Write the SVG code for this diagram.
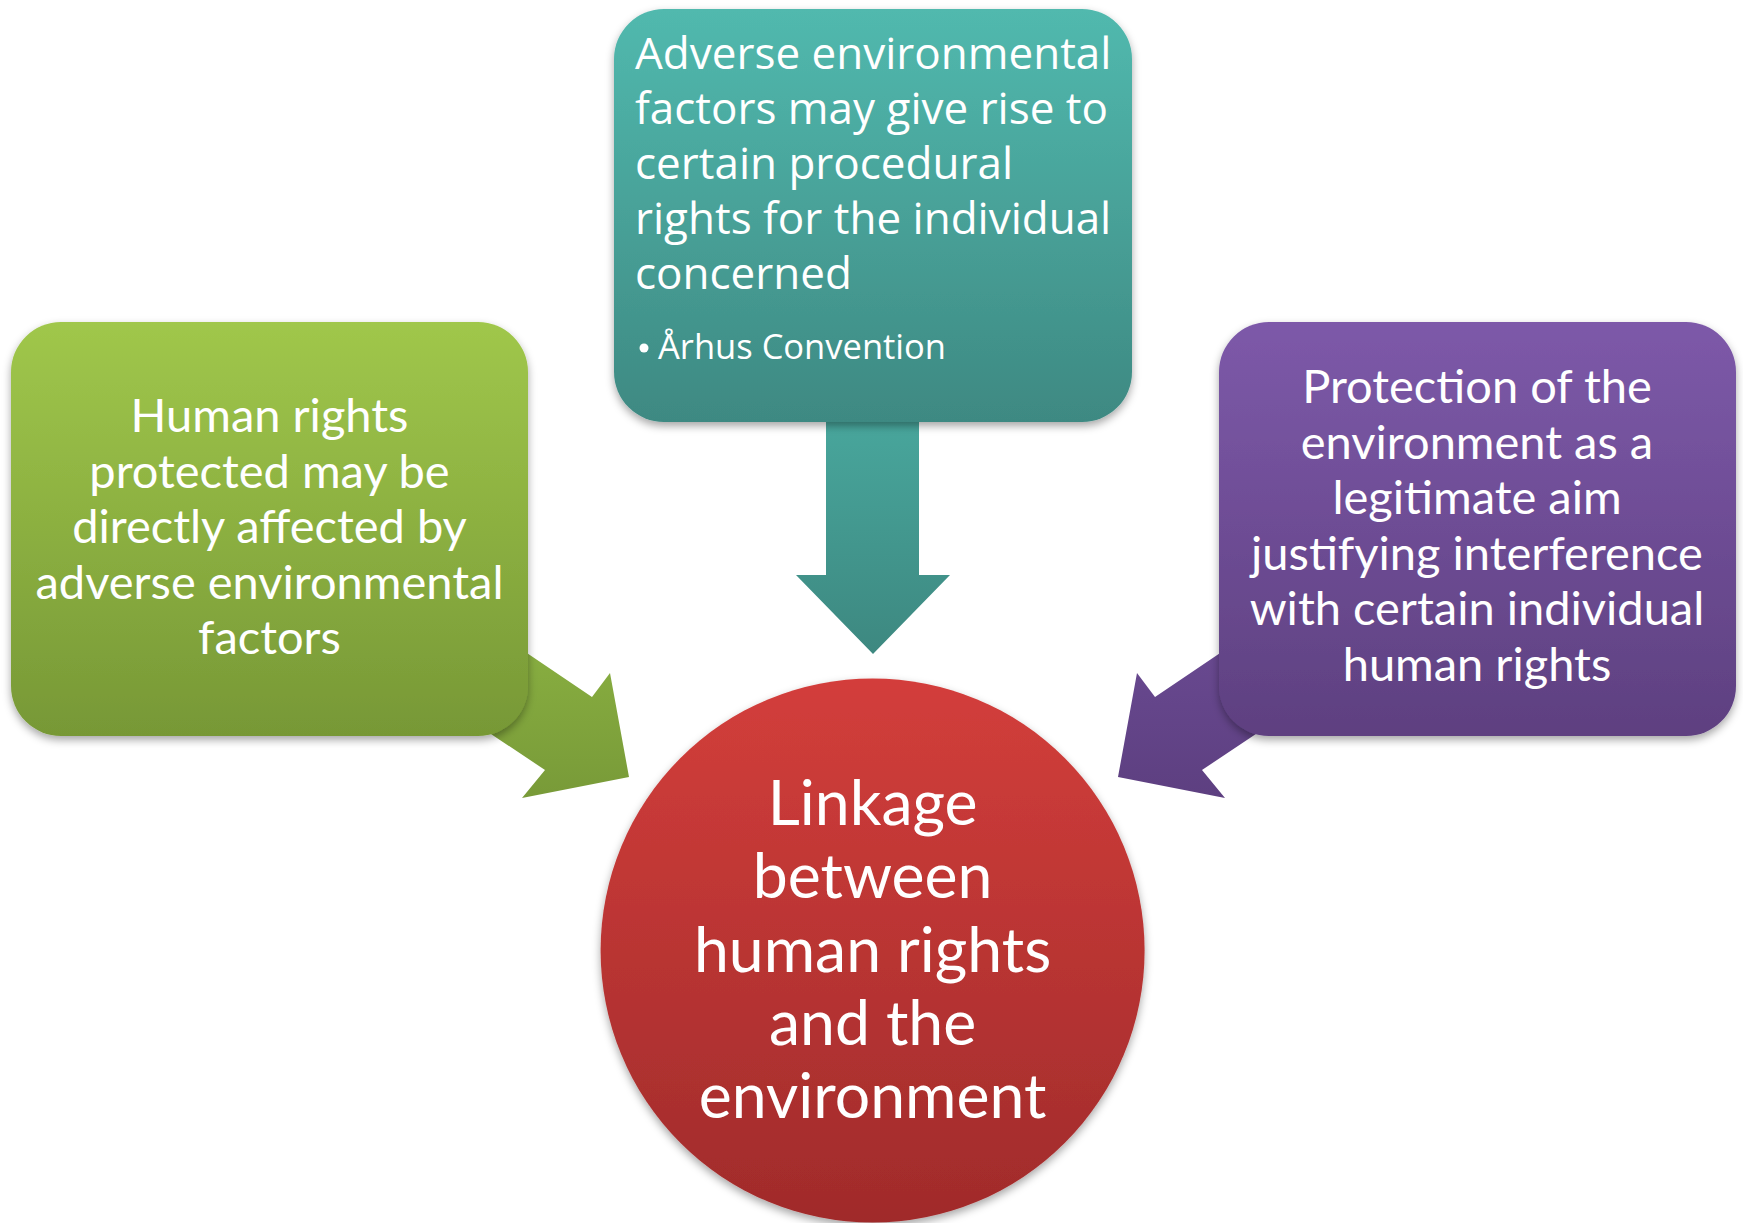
<svg xmlns="http://www.w3.org/2000/svg" width="1743" height="1223" viewBox="0 0 1743 1223">
<style>
.t{fill:#fff;font-family:Lato,"Liberation Sans",sans-serif;}
.c{text-anchor:middle;font-size:47px;}
.big{text-anchor:middle;font-size:62.5px;}
.w{fill:#fff;font-family:"Open Sans","Liberation Sans",sans-serif;font-size:44px;}
.w2{fill:#fff;font-family:"Open Sans","Liberation Sans",sans-serif;font-size:34.5px;}
</style>
<defs>
<linearGradient id="gG" x1="0" y1="0" x2="0" y2="1"><stop offset="0" stop-color="#A0C74B"/><stop offset="1" stop-color="#779836"/></linearGradient>
<linearGradient id="gT" x1="0" y1="0" x2="0" y2="1"><stop offset="0" stop-color="#51B9AE"/><stop offset="1" stop-color="#3E8982"/></linearGradient>
<linearGradient id="gP" x1="0" y1="0" x2="0" y2="1"><stop offset="0" stop-color="#7D59A9"/><stop offset="1" stop-color="#5E4080"/></linearGradient>
<linearGradient id="gR" x1="0" y1="0" x2="0" y2="1"><stop offset="0" stop-color="#D33E3B"/><stop offset="1" stop-color="#A02B2B"/></linearGradient>
<linearGradient id="aG" gradientUnits="userSpaceOnUse" x1="0" y1="600" x2="0" y2="800"><stop offset="0" stop-color="#8DB443"/><stop offset="1" stop-color="#789A38"/></linearGradient>
<linearGradient id="aT" gradientUnits="userSpaceOnUse" x1="0" y1="420" x2="0" y2="655"><stop offset="0" stop-color="#48A69C"/><stop offset="1" stop-color="#3D8880"/></linearGradient>
<linearGradient id="aP" gradientUnits="userSpaceOnUse" x1="0" y1="600" x2="0" y2="800"><stop offset="0" stop-color="#6C4C95"/><stop offset="1" stop-color="#5D3F80"/></linearGradient>
<filter id="sh" x="-10%" y="-10%" width="120%" height="125%"><feDropShadow dx="0" dy="4" stdDeviation="4" flood-color="#000" flood-opacity="0.35"/></filter>
</defs>
<rect width="1743" height="1223" fill="#fff"/>
<g id="connectors">
<polygon points="441,595 592,697 610,673 629,777 522,798 545,770 455,710" fill="url(#aG)"/>
<polygon points="826,400 826,575 796,575 873,654 950,575 919,575 919,400" fill="url(#aT)"/>
<polygon points="1306,595 1155,697 1137,673 1118,777 1225,798 1202,770 1292,710" fill="url(#aP)"/>
</g>
<g id="node-green">
<rect x="11" y="322" width="517" height="414" rx="50" fill="url(#gG)" filter="url(#sh)"/>
<text class="t c" x="269.5" y="432">Human rights</text>
<text class="t c" x="269.5" y="488">protected may be</text>
<text class="t c" x="269.5" y="543">directly affected by</text>
<text class="t c" x="269.5" y="599">adverse environmental</text>
<text class="t c" x="269.5" y="654">factors</text>
</g>
<g id="node-teal">
<rect x="614" y="9" width="518" height="413" rx="50" fill="url(#gT)" filter="url(#sh)"/>
<text class="w" x="635" y="69">Adverse environmental</text>
<text class="w" x="635" y="124">factors may give rise to</text>
<text class="w" x="635" y="179">certain procedural</text>
<text class="w" x="635" y="234">rights for the individual</text>
<text class="w" x="635" y="289">concerned</text>
<circle cx="644" cy="348" r="4.5" fill="#fff"/>
<text class="w2" x="658" y="359">Århus Convention</text>
</g>
<g id="node-purple">
<rect x="1219" y="322" width="517" height="414" rx="50" fill="url(#gP)" filter="url(#sh)"/>
<text class="t c" x="1477" y="403">Protection of the</text>
<text class="t c" x="1477" y="459">environment as a</text>
<text class="t c" x="1477" y="514">legitimate aim</text>
<text class="t c" x="1477" y="570">justifying interference</text>
<text class="t c" x="1477" y="625">with certain individual</text>
<text class="t c" x="1477" y="681">human rights</text>
</g>
<g id="node-center">
<circle cx="872.6" cy="950.5" r="272" fill="url(#gR)" filter="url(#sh)"/>
<text class="t big" x="872.6" y="825">Linkage</text>
<text class="t big" x="872.6" y="898">between</text>
<text class="t big" x="872.6" y="972">human rights</text>
<text class="t big" x="872.6" y="1045">and the</text>
<text class="t big" x="872.6" y="1118">environment</text>
</g>
</svg>
